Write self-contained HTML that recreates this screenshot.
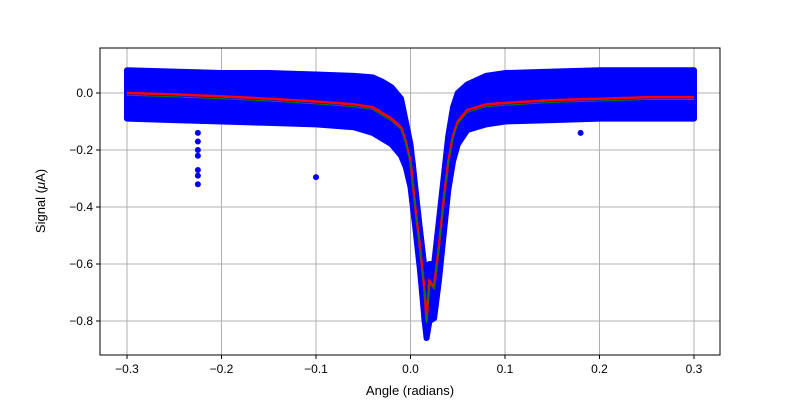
<!DOCTYPE html>
<html><head><meta charset="utf-8"><style>
body{margin:0;background:#fff;}
svg{display:block;font-family:"Liberation Sans","DejaVu Sans",sans-serif;}
</style></head><body>
<svg id="chart" width="800" height="400">
<rect width="800" height="400" fill="#fff"/>
<g id="grid"></g>
<g id="marks"></g>
<rect x="100" y="48" width="620" height="307" fill="none" stroke="#000" stroke-width="1"/>
<g id="ticks"></g>
<text x="410" y="395" text-anchor="middle" font-size="13">Angle (radians)</text>
<text transform="translate(45,201) rotate(-90)" text-anchor="middle" font-size="13">Signal (<tspan font-style="italic">μ</tspan>A)</text>
</svg>
<script>
const angles=[-0.3,-0.25,-0.2,-0.15,-0.1,-0.06,-0.04,-0.03,-0.02,-0.01,-0.005,0,0.005,0.01,0.015,0.017,0.02,0.025,0.03,0.035,0.04,0.045,0.05,0.06,0.08,0.1,0.15,0.2,0.25,0.3];
const meanSignal=[0,-0.005,-0.012,-0.02,-0.03,-0.04,-0.05,-0.07,-0.09,-0.12,-0.17,-0.24,-0.4,-0.54,-0.7,-0.8,-0.66,-0.68,-0.54,-0.38,-0.24,-0.15,-0.1,-0.06,-0.04,-0.035,-0.025,-0.02,-0.015,-0.015];
const upperSignal=[0.08,0.075,0.07,0.07,0.065,0.06,0.055,0.04,0.02,-0.02,-0.1,-0.18,-0.33,-0.48,-0.62,-0.72,-0.6,-0.6,-0.45,-0.3,-0.15,-0.05,0.0,0.03,0.06,0.07,0.075,0.08,0.08,0.08];
const lowerSignal=[-0.09,-0.095,-0.1,-0.105,-0.11,-0.12,-0.14,-0.16,-0.18,-0.22,-0.26,-0.33,-0.47,-0.62,-0.8,-0.86,-0.8,-0.79,-0.66,-0.5,-0.34,-0.24,-0.18,-0.13,-0.11,-0.1,-0.095,-0.09,-0.09,-0.09];
const outlierAngles=[-0.225,-0.225,-0.225,-0.225,-0.225,-0.225,-0.225,-0.1,0.18];
const outlierSignal=[-0.14,-0.17,-0.2,-0.22,-0.27,-0.29,-0.32,-0.295,-0.14];
const xTicks=[-0.3,-0.2,-0.1,0.0,0.1,0.2,0.3];
const yTicks=[0.0,-0.2,-0.4,-0.6,-0.8];
const xTickLabels=["−0.3","−0.2","−0.1","0.0","0.1","0.2","0.3"];
const yTickLabels=["0.0","−0.2","−0.4","−0.6","−0.8"];

const NS="http://www.w3.org/2000/svg";
const X=a=>410.5+a*945;
const Y=v=>93-v*285;
function mk(tag,attrs,parent){const e=document.createElementNS(NS,tag);for(const k in attrs)e.setAttribute(k,attrs[k]);parent.appendChild(e);return e;}
const grid=document.getElementById('grid'),marks=document.getElementById('marks'),ticks=document.getElementById('ticks');
xTicks.forEach((t,i)=>{
  const g=mk('line',{x1:X(t),x2:X(t),y1:48,y2:355,stroke:'#b0b0b0','stroke-width':1},grid);
  
  
  const tk=mk('line',{x1:X(t),x2:X(t),y1:355,y2:359,stroke:'#000'},ticks);
  
  
  const tx=mk('text',{x:X(t),y:373,'text-anchor':'middle','font-size':12},ticks);
  tx.textContent=xTickLabels[i];
  
  
});
yTicks.forEach((t,i)=>{
  const g=mk('line',{x1:100,x2:720,y1:Y(t),y2:Y(t),stroke:'#b0b0b0','stroke-width':1},grid);
  
  
  const tk=mk('line',{x1:96,x2:100,y1:Y(t),y2:Y(t),stroke:'#000'},ticks);
  
  
  const tx=mk('text',{x:93,y:Y(t)+4,'text-anchor':'end','font-size':12},ticks);
  tx.textContent=yTickLabels[i];
  
  
});
// blue scatter band
let pts=angles.map((a,i)=>X(a)+','+Y(upperSignal[i]));
for(let i=angles.length-1;i>=0;i--)pts.push(X(angles[i])+','+Y(lowerSignal[i]));
const band=mk('polygon',{points:pts.join(' '),fill:'#0000ff',stroke:'#0000ff','stroke-width':6,'stroke-linejoin':'round'},marks);


const core=mk('polyline',{points:angles.map((a,i)=>X(a)+','+Y(meanSignal[i])).join(' '),fill:'none',stroke:'#0000ff','stroke-width':10,'stroke-linejoin':'round'},marks);


outlierAngles.forEach((a,i)=>{
  const c=mk('circle',{cx:X(a),cy:Y(outlierSignal[i]),r:3,fill:'#0000ff'},marks);
  
  
});
const red=mk('polyline',{points:angles.map((a,i)=>X(a)+','+Y(meanSignal[i])).join(' '),fill:'none',stroke:'#ff0000','stroke-width':2.5},marks);


const green=mk('polyline',{points:angles.map((a,i)=>X(a)+','+Y(meanSignal[i]-0.008)).join(' '),fill:'none',stroke:'#008000','stroke-width':1},marks);


</script>
</body></html>
